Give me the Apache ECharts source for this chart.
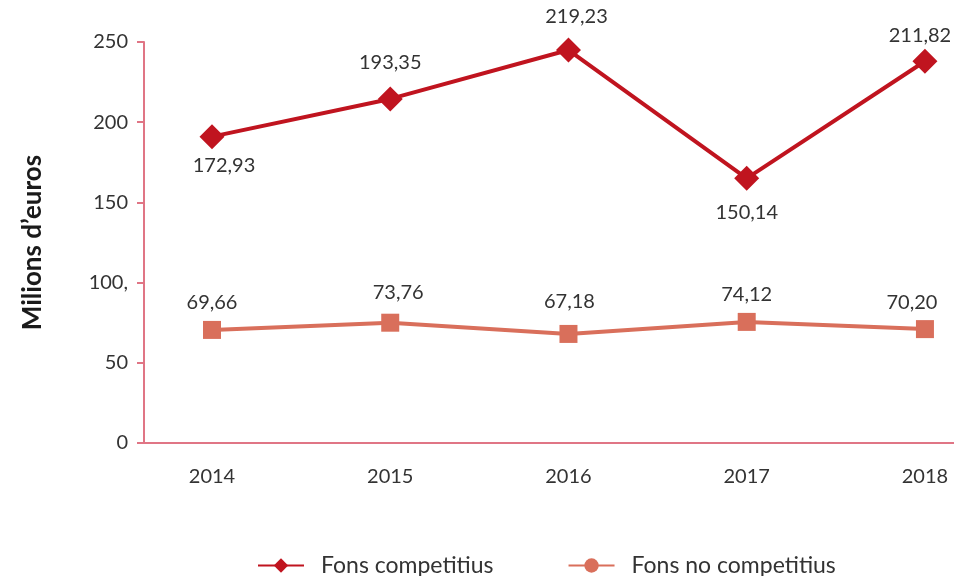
<!DOCTYPE html>
<html>
<head>
<meta charset="utf-8">
<script src="https://cdn.jsdelivr.net/npm/echarts@6/dist/echarts.min.js"></script>
<style>html,body{margin:0;padding:0;background:#fff}#c{width:954px;height:576px}</style>
</head>
<body>
<div id="c"></div>
<script>
// Data
const years = [2014, 2015, 2016, 2017, 2018];
const competitiusValues = [191, 214.5, 245, 165, 238];
const competitiusLabels = ['172,93', '193,35', '219,23', '150,14', '211,82'];
const noCompetitiusValues = [70.5, 75, 68, 75.5, 71];
const noCompetitiusLabels = ['69,66', '73,76', '67,18', '74,12', '70,20'];
const yTickLabels = { 0: '0', 50: '50', 100: '100,', 150: '150', 200: '200', 250: '250' };
const seriesNames = ['Fons competitius', 'Fons no competitius'];

const RED = '#C0141F';
const SALMON = '#D96F5B';
const AXIS = '#E07585';
const TXT = '#333333';
const FONT = 'Lato, "Open Sans", sans-serif';

const redLabelCfg = [
  { position: 'bottom', distance: 6, offset: [12, 0] },
  { position: 'top', distance: 14, offset: [0, 0] },
  { position: 'top', distance: 11, offset: [8, 0] },
  { position: 'bottom', distance: 12, offset: [0, 0] },
  { position: 'top', distance: 3, offset: [-5, 0] }
];
const salLabelCfg = [
  { distance: 8, offset: [0, 0] },
  { distance: 11, offset: [8, 0] },
  { distance: 13, offset: [1, 0] },
  { distance: 8, offset: [0, 0] },
  { distance: 8, offset: [-13, 0] }
];

const redData = years.map((y, i) => ({
  value: [y, competitiusValues[i]],
  label: Object.assign({ show: true, formatter: competitiusLabels[i] }, redLabelCfg[i])
}));
const salData = years.map((y, i) => ({
  value: [y, noCompetitiusValues[i]],
  label: Object.assign({ show: true, position: 'top', formatter: noCompetitiusLabels[i] }, salLabelCfg[i])
}));

const chart = echarts.init(document.getElementById('c'), null, { renderer: 'canvas' });
chart.setOption({
  animation: false,
  backgroundColor: '#fff',
  textStyle: { fontFamily: FONT },
  grid: { left: 144, right: 0, top: 42, bottom: 133, containLabel: false },
  xAxis: {
    type: 'value',
    min: 2013.6185,
    max: 2018.163,
    splitLine: { show: false },
    axisLine: { show: true, onZero: false, lineStyle: { color: AXIS, width: 2 } },
    axisTick: { show: false },
    axisLabel: {
      customValues: years,
      formatter: v => String(v),
      color: TXT, fontSize: 20, fontFamily: FONT, margin: 24
    }
  },
  yAxis: {
    type: 'value',
    min: 0, max: 250, interval: 50,
    name: 'Milions d\u2019euros',
    nameLocation: 'middle',
    nameRotate: 90,
    nameGap: 98,
    nameTextStyle: { color: '#1a1a1a', fontSize: 26, fontWeight: 'bold', fontFamily: FONT },
    splitLine: { show: false },
    axisLine: { show: true, lineStyle: { color: AXIS, width: 2 } },
    axisTick: { show: true, length: 7, lineStyle: { color: AXIS, width: 2 } },
    axisLabel: {
      formatter: v => yTickLabels[v] !== undefined ? yTickLabels[v] : String(v),
      color: TXT, fontSize: 20, fontFamily: FONT, margin: 16
    }
  },
  legend: {
    left: 252, top: 549,
    itemWidth: 46, itemHeight: 18, itemGap: 74,
    textStyle: { color: TXT, fontSize: 23, fontFamily: FONT, padding: [0, 0, 0, 12] },
    data: seriesNames
  },
  series: [
    {
      name: seriesNames[1], type: 'line', data: [],
      symbol: 'circle', symbolSize: 16,
      itemStyle: { color: SALMON }, lineStyle: { color: SALMON, width: 4 }
    },
    {
      name: seriesNames[0], type: 'line', data: redData,
      symbol: 'diamond', symbolSize: 25,
      itemStyle: { color: RED }, lineStyle: { color: RED, width: 4 },
      label: { color: TXT, fontSize: 20, fontFamily: FONT },
      z: 3
    },
    {
      name: seriesNames[1], type: 'line', data: salData,
      symbol: 'rect', symbolSize: 18,
      itemStyle: { color: SALMON }, lineStyle: { color: SALMON, width: 4 },
      label: { color: TXT, fontSize: 20, fontFamily: FONT },
      z: 2
    }
  ]
});
</script>
</body>
</html>
